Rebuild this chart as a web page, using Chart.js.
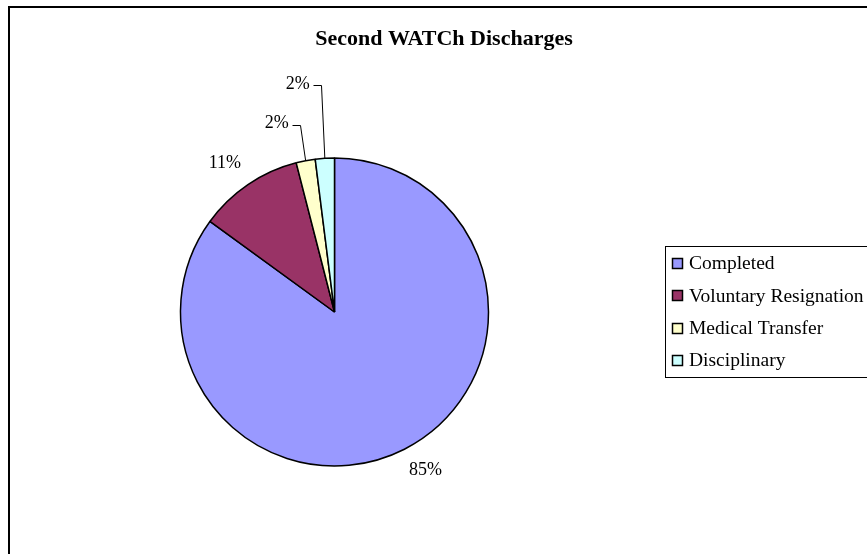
<!DOCTYPE html>
<html>
<head>
<meta charset="utf-8">
<title>Second WATCh Discharges</title>
<script src="https://cdn.jsdelivr.net/npm/chart.js@4"></script>
<style>
  html, body { margin: 0; padding: 0; background: #fff; }
  #wrap { position: relative; width: 867px; height: 554px; }
</style>
</head>
<body>
<div id="wrap"><canvas id="pieChart" width="867" height="554"></canvas></div>
<script>
// chart data
var titleText = "Second WATCh Discharges";
var categories = ["Completed", "Voluntary Resignation", "Medical Transfer", "Disciplinary"];
var values = [85, 11, 2, 2];
var colors = ["#9999FF", "#993366", "#FFFFCC", "#CCFFFF"];

// label placement relative to the middle of each slice's rim, and which get a leader line
var labelOffsets = [[21, 21], [-23, -21], [-29, -37], [-27, -74]];
var leaderLines = [false, false, true, true];

var serif = '"Liberation Serif", "Times New Roman", serif';

var frame = {
  id: "frame",
  afterDraw: function (chart) {
    var ctx = chart.ctx;
    ctx.save();

    // outer border of the chart object (cut off at right and bottom)
    ctx.strokeStyle = "#000";
    ctx.lineWidth = 2;
    ctx.strokeRect(9, 7, 1000, 1000);

    // title
    ctx.fillStyle = "#000";
    ctx.font = "bold 22px " + serif;
    ctx.textAlign = "center";
    ctx.textBaseline = "alphabetic";
    ctx.fillText(titleText, 444, 45);

    // percentage labels
    var meta = chart.getDatasetMeta(0);
    var total = values.reduce(function (a, b) { return a + b; }, 0);
    ctx.font = "18px " + serif;
    ctx.textBaseline = "middle";
    ctx.lineWidth = 1;
    meta.data.forEach(function (arc, i) {
      var p = arc.getProps(["x", "y", "startAngle", "endAngle", "outerRadius"], true);
      var mid = (p.startAngle + p.endAngle) / 2;
      var ex = p.x + Math.cos(mid) * p.outerRadius;
      var ey = p.y + Math.sin(mid) * p.outerRadius;
      var tx = ex + labelOffsets[i][0];
      var ty = ey + labelOffsets[i][1];
      var txt = Math.round(values[i] / total * 100) + "%";
      ctx.textAlign = "center";
      ctx.fillText(txt, tx, ty);
      if (leaderLines[i]) {
        var w = ctx.measureText(txt).width;
        var lx = Math.round(tx + w / 2 + 3) + 0.5;
        var ly = Math.round(ty + 1) + 0.5;
        ctx.beginPath();
        ctx.moveTo(lx, ly);
        ctx.lineTo(lx + 8, ly);
        ctx.lineTo(ex, ey);
        ctx.stroke();
      }
    });

    // legend
    var lx0 = 665.5, ly0 = 246.5;
    ctx.strokeStyle = "#000";
    ctx.lineWidth = 1;
    ctx.strokeRect(lx0, ly0, 400, 131);
    ctx.font = "19.5px " + serif;
    ctx.textAlign = "left";
    ctx.textBaseline = "middle";
    chart.data.labels.forEach(function (label, i) {
      var cy = 263 + i * 32.4;
      var sy = Math.round(cy - 5);
      ctx.fillStyle = colors[i];
      ctx.fillRect(672, sy, 11, 11);
      ctx.lineWidth = 1.5;
      ctx.strokeRect(672.5, sy + 0.5, 10, 10);
      ctx.fillStyle = "#000";
      ctx.fillText(label, 689, cy + 1);
    });

    ctx.restore();
  }
};

var ctx = document.getElementById("pieChart").getContext("2d");
var pieChart = new Chart(ctx, {
  type: "pie",
  data: {
    labels: categories,
    datasets: [
      {
        data: values,
        backgroundColor: colors,
        borderColor: "#000",
        borderWidth: 1.5,
        hoverOffset: 0
      }
    ]
  },
  options: {
    responsive: false,
    animation: false,
    radius: 154,
    layout: {
      padding: { left: 174.5, top: 152, right: 372.5, bottom: 82 }
    },
    plugins: {
      legend: { display: false },
      title: { display: false },
      tooltip: { enabled: false }
    }
  },
  plugins: [frame]
});
</script>
</body>
</html>
